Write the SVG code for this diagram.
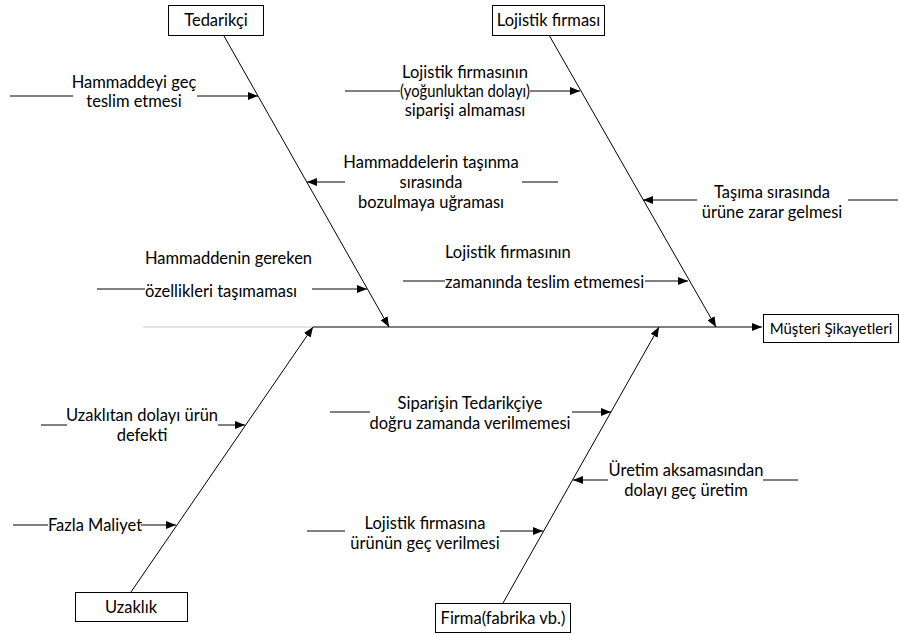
<svg xmlns="http://www.w3.org/2000/svg" width="900" height="634" viewBox="0 0 900 634">
<style>
text{font-family:Lato,"Liberation Sans",sans-serif;font-size:16.5px;fill:#000}
.c{text-anchor:middle}
.box{fill:#fff;stroke:#000;stroke-width:1}
.ln{stroke:#000;stroke-width:1;fill:none}
.ar{stroke:#000;stroke-width:1;fill:none;marker-end:url(#ah)}
</style>
<defs>
<marker id="ah" viewBox="0 0 10 8" refX="10" refY="4" markerWidth="10" markerHeight="8" markerUnits="userSpaceOnUse" orient="auto">
<path d="M0,0 L10,4 L0,8 z" fill="#000"/>
</marker>
</defs>
<rect width="900" height="634" fill="#fff"/>
<g id="connectors">
<line x1="143" y1="327" x2="313" y2="327" stroke="#c8c8c8" stroke-width="1"/>
<line class="ar" x1="313" y1="327" x2="762" y2="327"/>
<line class="ar" x1="224" y1="36" x2="389" y2="327"/>
<line class="ar" x1="549" y1="35" x2="716" y2="327"/>
<line class="ar" x1="131" y1="592" x2="313" y2="327"/>
<line class="ar" x1="503" y1="603" x2="659" y2="327"/>
<line class="ln" x1="10" y1="96" x2="73" y2="96"/>
<line class="ar" x1="197" y1="96" x2="258" y2="96"/>
<line class="ar" x1="345" y1="182" x2="307" y2="182"/>
<line class="ln" x1="522" y1="182" x2="558" y2="182"/>
<line class="ln" x1="97" y1="289" x2="145" y2="289"/>
<line class="ar" x1="312" y1="289" x2="367" y2="289"/>
<line class="ln" x1="345" y1="91" x2="400" y2="91"/>
<line class="ar" x1="530" y1="91" x2="580" y2="91"/>
<line class="ar" x1="697" y1="200" x2="643" y2="200"/>
<line class="ln" x1="848" y1="200" x2="898" y2="200"/>
<line class="ln" x1="403" y1="281" x2="445" y2="281"/>
<line class="ar" x1="645" y1="281" x2="688" y2="281"/>
<line class="ln" x1="41" y1="425" x2="67" y2="425"/>
<line class="ar" x1="218" y1="425" x2="245" y2="425"/>
<line class="ln" x1="13" y1="525" x2="48" y2="525"/>
<line class="ar" x1="141" y1="525" x2="176" y2="525"/>
<line class="ln" x1="330" y1="412" x2="370" y2="412"/>
<line class="ar" x1="572" y1="412" x2="611" y2="412"/>
<line class="ar" x1="608" y1="480" x2="573" y2="480"/>
<line class="ln" x1="763" y1="480" x2="798" y2="480"/>
<line class="ln" x1="307" y1="531" x2="345" y2="531"/>
<line class="ar" x1="500" y1="531" x2="543" y2="531"/>
</g>
<g id="tedarikci"><rect class="box" x="168.5" y="5.5" width="95" height="30"/><text class="c" x="216" y="26">Tedarikçi</text></g>
<g id="lojistik"><rect class="box" x="492.5" y="5.5" width="112" height="30"/><text class="c" x="548.5" y="26">Lojistik firması</text></g>
<g id="musteri"><rect class="box" x="763.5" y="314.5" width="135" height="28"/><text class="c" x="831" y="333.5" style="font-size:15px">Müşteri Şikayetleri</text></g>
<g id="uzaklik"><rect class="box" x="75.5" y="592.5" width="112" height="29"/><text class="c" x="131" y="613">Uzaklık</text></g>
<g id="firma"><rect class="box" x="435.5" y="603.5" width="135" height="29"/><text class="c" x="503" y="624">Firma(fabrika vb.)</text></g>
<g id="c1"><text class="c" x="134" y="88">Hammaddeyi geç</text><text class="c" x="134" y="107">teslim etmesi</text></g>
<g id="c2"><text class="c" x="431" y="168">Hammaddelerin taşınma</text><text class="c" x="431" y="188">sırasında</text><text class="c" x="431" y="208">bozulmaya uğraması</text></g>
<g id="c3"><text x="145" y="264">Hammaddenin gereken</text><text x="145" y="297">özellikleri taşımaması</text></g>
<g id="c4"><text class="c" x="465" y="78">Lojistik firmasının</text><text class="c" x="465" y="97" textLength="130" lengthAdjust="spacingAndGlyphs">(yoğunluktan dolayı)</text><text class="c" x="465" y="116">siparişi almaması</text></g>
<g id="c5"><text class="c" x="772" y="198">Taşıma sırasında</text><text class="c" x="772" y="218">ürüne zarar gelmesi</text></g>
<g id="c6"><text x="445" y="258">Lojistik firmasının</text><text x="445" y="288">zamanında teslim etmemesi</text></g>
<g id="c7"><text class="c" x="142" y="421">Uzaklıtan dolayı ürün</text><text class="c" x="142" y="441">defekti</text></g>
<g id="c8"><text class="c" x="95" y="531">Fazla Maliyet</text></g>
<g id="c9"><text class="c" x="470" y="409">Siparişin Tedarikçiye</text><text class="c" x="470" y="429">doğru zamanda verilmemesi</text></g>
<g id="c10"><text class="c" x="686" y="476">Üretim aksamasından</text><text class="c" x="686" y="496">dolayı geç üretim</text></g>
<g id="c11"><text class="c" x="425" y="529">Lojistik firmasına</text><text class="c" x="425" y="549">ürünün geç verilmesi</text></g>
</svg>
